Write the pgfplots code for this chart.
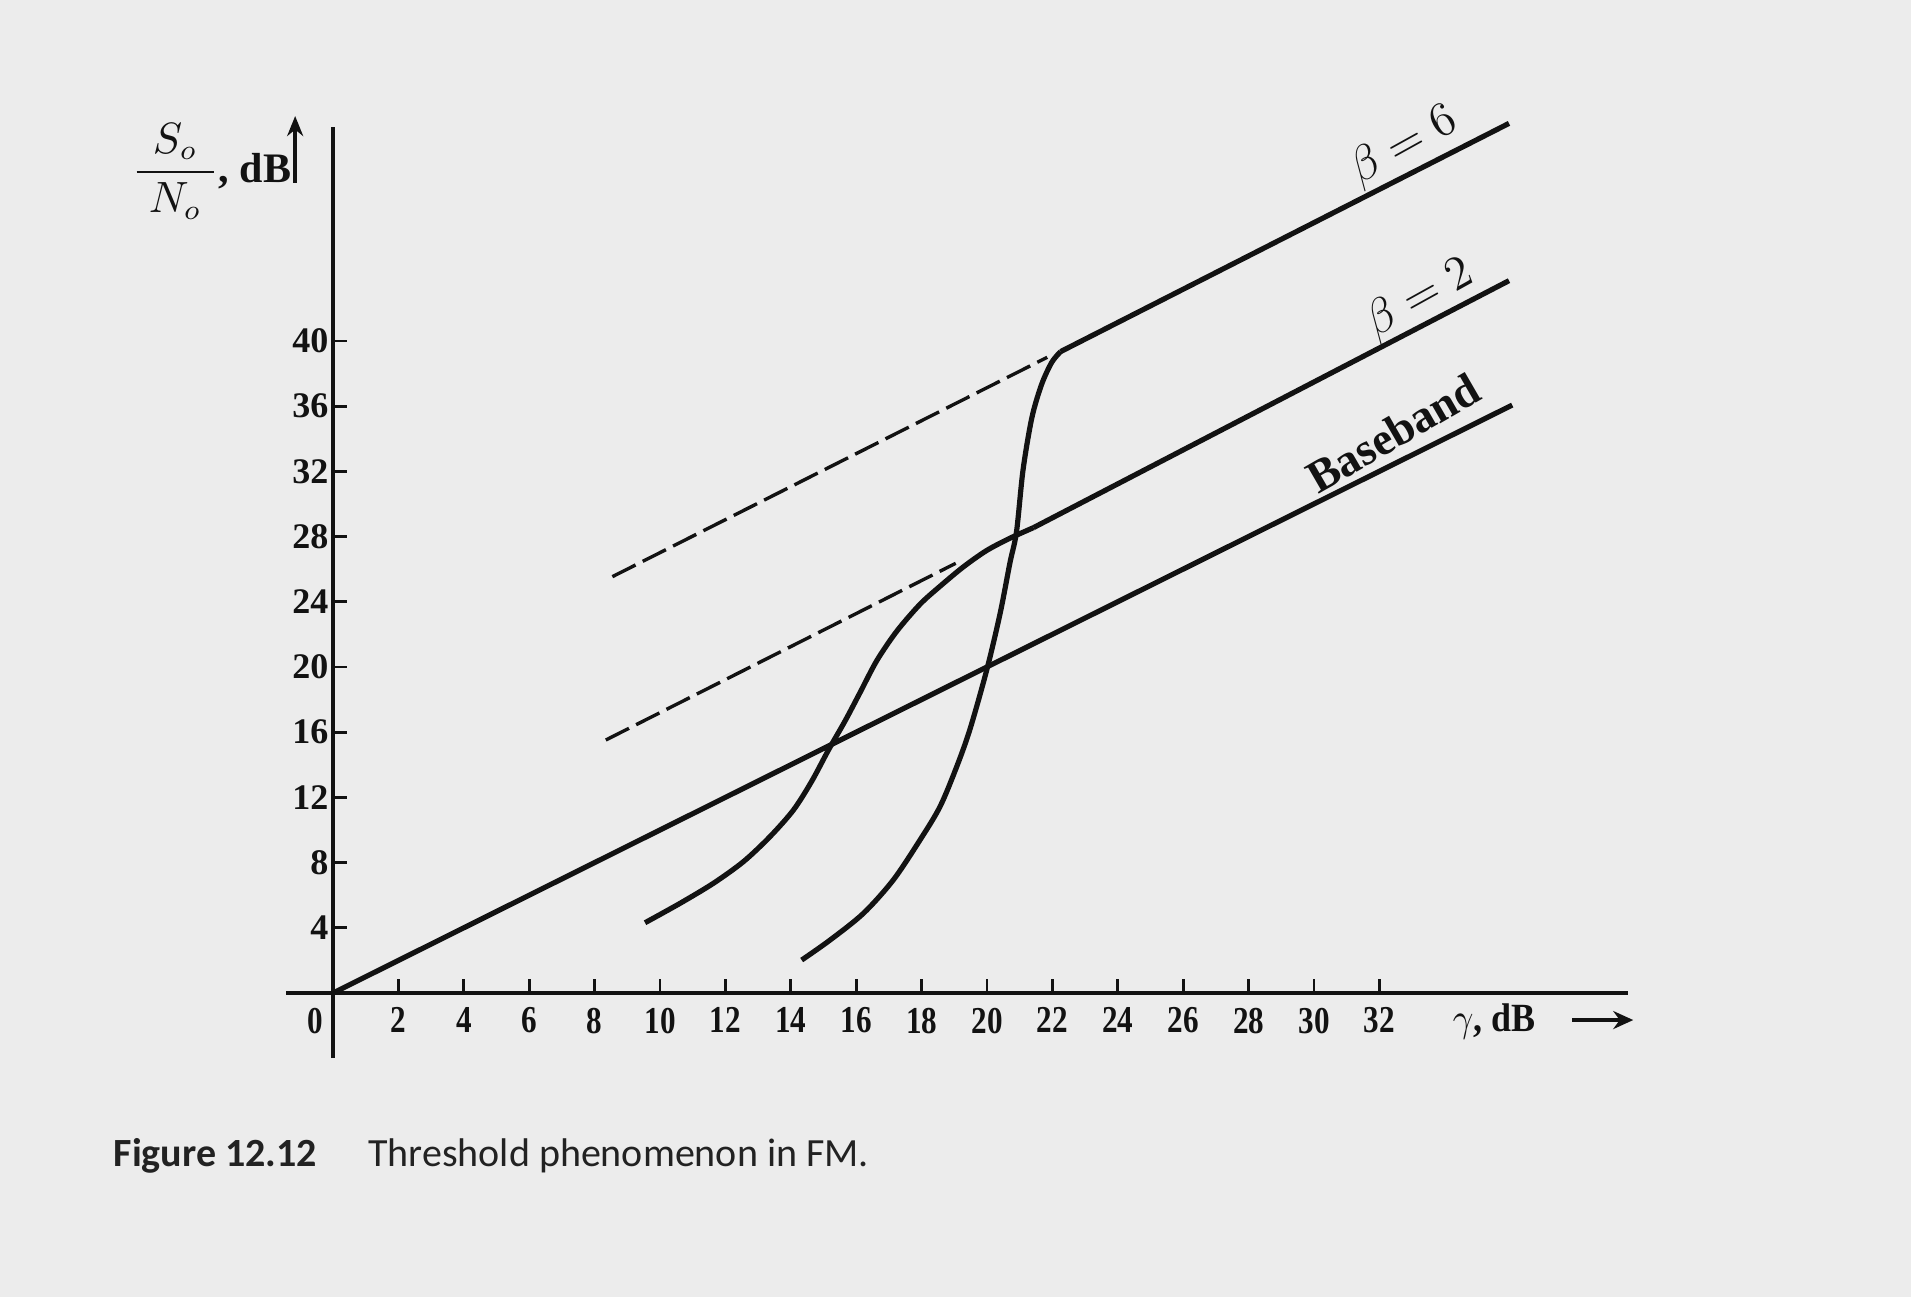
\documentclass[border=0pt]{standalone}
\usepackage{pgfplots}
\pgfplotsset{compat=1.18}
\usepackage{fontspec}
\setmainfont{Liberation Serif}
\newfontfamily\capfont{Carlito}
\usetikzlibrary{arrows.meta}
\definecolor{bg}{RGB}{236,236,236}
\definecolor{ink}{RGB}{18,18,18}
\definecolor{capink}{RGB}{34,34,34}

\begin{document}
\begin{tikzpicture}
\fill[bg] (0,0) rectangle (477.75pt,324.25pt);
\useasboundingbox (0,0) rectangle (477.75pt,324.25pt);
\begin{axis}[
  at={(71.5pt,59.7pt)}, anchor=south west,
  x=8.175pt, y=4.075pt,
  xmin=-1.44, xmax=39.6, ymin=-4, ymax=53.1,
  axis lines=center,
  axis line style={-, line width=1.05pt, ink},
  clip=false,
  xtick={2,4,...,32}, ytick={4,8,...,40},
  tick align=inside,
  major tick length=3.6pt,
  tick style={line width=0.7pt, ink},
  /pgf/number format/assume math mode=true,
  xticklabel style={font=\bfseries\fontsize{9.5}{10}\selectfont, xscale=0.82, anchor=north, inner sep=1pt, yshift=-2.5pt, text=ink},
  yticklabel style={font=\bfseries\fontsize{9}{10}\selectfont, anchor=east, inner sep=1pt, text=ink},
]
% Baseband
\addplot[ink, line width=1.3pt] coordinates {(0,0) (36.06,36.07)};
% beta = 2 (threshold curve and line)
\addplot[ink, line width=1.3pt, smooth, tension=0.5] coordinates {
 (9.54,4.31) (10.61,5.50) (11.63,6.73) (12.55,8.06) (13.36,9.59) (14.08,11.23)
 (14.64,13.0) (15.15,14.91) (15.66,16.7) (16.12,18.45) (16.63,20.4) (17.24,22.2)
 (17.95,23.85) (18.56,24.95) (19.28,26.15) (19.99,27.15) (20.7,27.9) (21.42,28.55)};
\addplot[ink, line width=1.3pt] coordinates {(21.42,28.55) (35.96,43.7)};
% beta = 6 threshold curve
\addplot[ink, line width=1.3pt, smooth, tension=0.5] coordinates {
 (14.33,2.02) (15.2,3.25) (16.22,4.89) (17.13,6.93) (17.95,9.39) (18.56,11.43)
 (19.07,13.88) (19.48,16.2) (20.0,19.9) (20.4,23.3) (20.7,26.4) (20.9,28.3)
 (21.1,32.1) (21.37,35.3) (21.67,37.35) (21.98,38.7) (22.25,39.35)};
% beta = 6 line
\addplot[ink, line width=1.3pt] coordinates {(22.25,39.35) (35.96,53.35)};
% dashed extensions
\addplot[ink, line width=0.85pt, dash pattern=on 6.5pt off 2pt] coordinates {(8.54,25.54) (21.84,39.0)};
\addplot[ink, line width=0.85pt, dash pattern=on 6.5pt off 2pt] coordinates {(8.34,15.52) (19.04,26.36)};

% labels
\node[rotate=29, font=\fontsize{12}{14}\selectfont, text=ink] at (axis cs:32.75,51.96) {$\beta = 6$};
\node[rotate=29, font=\fontsize{12}{14}\selectfont, text=ink] at (axis cs:33.24,42.58) {$\beta = 2$};
\node[rotate=30, font=\bfseries\fontsize{11.5}{14}\selectfont, text=ink] at (axis cs:32.42,34.36) {Baseband};
\node[anchor=north east, inner sep=1pt, yshift=-2.5pt, font=\bfseries\fontsize{9.5}{10}\selectfont, xscale=0.82, text=ink] at (axis cs:-0.2,0) {0};
\node[anchor=base west, inner sep=0pt, font=\bfseries\fontsize{10}{12}\selectfont, xscale=0.9, text=ink] at (axis cs:34.22,-2.39) {$\gamma$, dB};
\draw[ink, line width=0.9pt, -{Stealth[length=5pt,width=4.5pt]}] (axis cs:37.89,-1.66) -- (axis cs:39.76,-1.66);
\draw[ink, line width=0.9pt, -{Stealth[length=5pt,width=4pt]}] (axis cs:-1.16,49.7) -- (axis cs:-1.16,53.8);
\node[anchor=base west, inner sep=0pt, font=\bfseries\fontsize{10.5}{12}\selectfont, text=ink] at (axis cs:-6.18,49.7) {$\displaystyle\frac{\;S_o\;}{\;N_o\;}$, dB};
\end{axis}
\node[anchor=base west, inner sep=0pt, font=\capfont\fontsize{10}{12}\selectfont, text=capink] at (28.25pt,32.65pt) {\textbf{Figure 12.12}\hspace{12.8pt}Threshold phenomenon in FM.};
\end{tikzpicture}
\end{document}
